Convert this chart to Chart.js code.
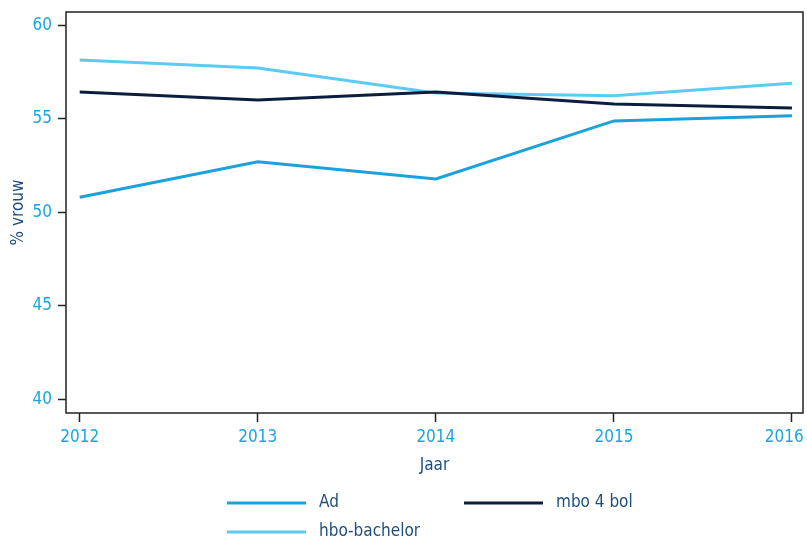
<!DOCTYPE html>
<html>
<head>
<meta charset="utf-8">
<script src="https://cdn.jsdelivr.net/npm/chart.js@4"></script>
<style>
  html, body { margin: 0; padding: 0; background: #fff; }
  #wrap { width: 807px; height: 541px; }
</style>
</head>
<body>
<div id="wrap"><canvas id="chart" width="807" height="541"></canvas></div>
<script>
// Aandeel vrouwen per opleiding, 2012-2016
var years = [2012, 2013, 2014, 2015, 2016];
var yTicks = [40, 45, 50, 55, 60];
var adValues = [50.81, 52.71, 51.79, 54.89, 55.16];
var mboValues = [56.44, 56.01, 56.44, 55.80, 55.58];
var hboValues = [58.15, 57.72, 56.38, 56.24, 56.90];

var FAMILY = "'DejaVu Sans', sans-serif";
var STRETCH = 'condensed';
var TICK_COLOR = '#1aa5de';
var TITLE_COLOR = '#1f4e7e';
var AXIS_COLOR = '#222';

function toPoints(values) {
  return values.map(function (v, i) { return { x: years[i], y: v }; });
}

function fontOpt(size) {
  return { family: FAMILY, size: size, weight: STRETCH };
}

// frame round the plot + custom two-column legend
var framePlugin = {
  id: 'frame',
  afterDraw: function (chart) {
    var ctx = chart.ctx, a = chart.chartArea;
    ctx.save();
    ctx.strokeStyle = AXIS_COLOR;
    ctx.lineWidth = 1.5;
    ctx.strokeRect(a.left, a.top, a.right - a.left, a.bottom - a.top);

    var slots = [
      { ds: 0, x: 227, y: 503 },
      { ds: 1, x: 464, y: 503 },
      { ds: 2, x: 227, y: 532 }
    ];
    ctx.font = STRETCH + ' 17px ' + FAMILY;
    ctx.textBaseline = 'middle';
    ctx.textAlign = 'left';
    slots.forEach(function (s) {
      var ds = chart.data.datasets[s.ds];
      ctx.strokeStyle = ds.borderColor;
      ctx.lineWidth = 3;
      ctx.beginPath();
      ctx.moveTo(s.x, s.y);
      ctx.lineTo(s.x + 79, s.y);
      ctx.stroke();
      ctx.fillStyle = TITLE_COLOR;
      ctx.fillText(ds.label, s.x + 92, s.y);
    });
    ctx.restore();
  }
};

new Chart(document.getElementById('chart').getContext('2d'), {
  type: 'line',
  data: {
    datasets: [
      { label: 'Ad', data: toPoints(adValues), borderColor: '#1ba1dc' },
      { label: 'mbo 4 bol', data: toPoints(mboValues), borderColor: '#0b1e3d' },
      { label: 'hbo-bachelor', data: toPoints(hboValues), borderColor: '#5ccbf2' }
    ]
  },
  options: {
    responsive: false,
    animation: false,
    elements: {
      line: { borderWidth: 3, tension: 0, fill: false },
      point: { radius: 0, hoverRadius: 0 }
    },
    layout: { padding: { top: 12, right: 4, left: 0, bottom: 58 } },
    plugins: {
      legend: { display: false },
      tooltip: { enabled: false }
    },
    scales: {
      x: {
        type: 'linear',
        min: 2011.923,
        max: 2016.062,
        afterBuildTicks: function (axis) {
          axis.ticks = years.map(function (v) { return { value: v }; });
        },
        afterFit: function (axis) {
          axis.height = 70;
          axis.paddingLeft = 0;
          axis.paddingRight = 0;
        },
        grid: {
          drawOnChartArea: false,
          drawTicks: true,
          tickLength: 9,
          tickColor: AXIS_COLOR,
          tickWidth: 1.5
        },
        border: { display: false },
        ticks: {
          color: TICK_COLOR,
          font: fontOpt(17),
          padding: 5,
          maxRotation: 0,
          // last label sits a little left of its tick so it stays inside the page
          callback: function (v) {
            return v === years[years.length - 1] ? String(v) + '\u2002\u2002' : String(v);
          }
        },
        title: {
          display: true,
          text: 'Jaar',
          color: TITLE_COLOR,
          font: fontOpt(17),
          padding: { top: 0, bottom: 7 }
        }
      },
      y: {
        type: 'linear',
        min: 39.28,
        max: 60.71,
        afterBuildTicks: function (axis) {
          axis.ticks = yTicks.map(function (v) { return { value: v }; });
        },
        afterFit: function (axis) {
          axis.width = 66;
          axis.paddingTop = 0;
          axis.paddingBottom = 0;
        },
        grid: {
          drawOnChartArea: false,
          drawTicks: true,
          tickLength: 8,
          tickColor: AXIS_COLOR,
          tickWidth: 1.5
        },
        border: { display: false },
        ticks: {
          color: TICK_COLOR,
          font: fontOpt(17),
          padding: 6
        },
        title: {
          display: true,
          text: '% vrouw',
          color: TITLE_COLOR,
          font: fontOpt(17),
          padding: { top: 8, bottom: 0 }
        }
      }
    }
  },
  plugins: [framePlugin]
});
</script>
</body>
</html>
